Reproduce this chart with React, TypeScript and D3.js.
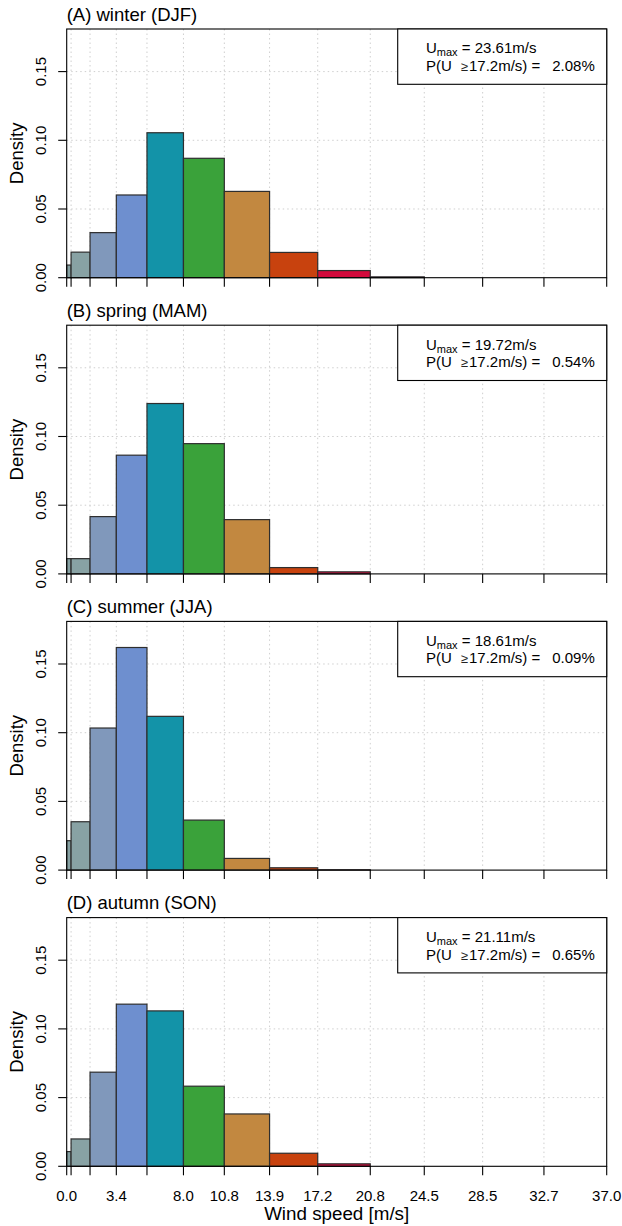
import React from "react";
import * as d3 from "d3";

// Beaufort-scale bin edges (m/s)
const breaks = [0, 0.3, 1.6, 3.4, 5.5, 8.0, 10.8, 13.9, 17.2, 20.8, 24.5, 28.5, 32.7, 37.0];
const labeledBreaks = [0, 3.4, 8.0, 10.8, 13.9, 17.2, 20.8, 24.5, 28.5, 32.7, 37.0];
const yTicks = [0, 0.05, 0.1, 0.15];

// one fill per Beaufort class
const binColors = [
  "#86A1A3", "#88A2A4", "#8098BB", "#6E8FCF", "#1393A8", "#3AA23A",
  "#C28840", "#C8420E", "#D20A3C", "#8E0152", "#6A0D83", "#3F007D", "#2D004B",
];

const panelTitles = ["(A) winter (DJF)", "(B) spring (MAM)", "(C) summer (JJA)", "(D) autumn (SON)"];

// histogram densities per bin
const winterDensity = [0.0092, 0.0186, 0.0328, 0.0602, 0.1055, 0.0869, 0.0628, 0.0184, 0.0052, 0.0006, 0, 0, 0];
const springDensity = [0.0111, 0.0111, 0.0417, 0.0864, 0.124, 0.0948, 0.0395, 0.0046, 0.0015, 0, 0, 0, 0];
const summerDensity = [0.0214, 0.0352, 0.1034, 0.162, 0.1119, 0.0364, 0.0085, 0.0017, 0.00025, 0, 0, 0, 0];
const autumnDensity = [0.0107, 0.0199, 0.0685, 0.118, 0.1131, 0.0583, 0.0381, 0.0095, 0.0018, 0, 0, 0, 0];

const uMax = ["23.61", "19.72", "18.61", "21.11"];
const pGale = ["2.08", "0.54", "0.09", "0.65"];

const seasons = [winterDensity, springDensity, summerDensity, autumnDensity];

const W = 622;
const H = 1226;
const left = 66.7;
const right = 606.7;
const firstTop = 29;
const panelStep = 296.2;
const panelH = 248.7;
const yMax = 0.181;
const font = "'Liberation Sans', Arial, Helvetica, sans-serif";

const x = d3.scaleLinear().domain([0, 37]).range([left, right]);

function Panel({ idx }: { idx: number }) {
  const top = firstTop + idx * panelStep;
  const bottom = top + panelH;
  const y = d3.scaleLinear().domain([0, yMax]).range([bottom, top]);
  const dens = seasons[idx];
  const isLast = idx === seasons.length - 1;
  const legL = 397.7;
  const legH = 55.3;
  const tx = 426;

  return (
    <g>
      <text x={left} y={top - 8.3} fontSize={18.5} fontFamily={font} fill="#000">
        {panelTitles[idx]}
      </text>

      {/* dotted grid */}
      {yTicks.slice(1).map((t) => (
        <line key={"h" + t} x1={left} x2={right} y1={y(t)} y2={y(t)}
          stroke="#cfcfcf" strokeWidth={1} strokeDasharray="1.5,3" />
      ))}
      {breaks.slice(1, -1).map((b) => (
        <line key={"v" + b} x1={x(b)} x2={x(b)} y1={top} y2={bottom}
          stroke="#cfcfcf" strokeWidth={1} strokeDasharray="1.5,3" />
      ))}

      {/* histogram bars */}
      {dens.map((d, i) =>
        d > 0 ? (
          <rect key={"b" + i} x={x(breaks[i])} y={y(d)}
            width={x(breaks[i + 1]) - x(breaks[i])} height={y(0) - y(d)}
            fill={binColors[i]} stroke="#2e2e2e" strokeWidth={1.2} />
        ) : null
      )}

      {/* frame */}
      <rect x={left} y={top} width={right - left} height={panelH} fill="none" stroke="#000" strokeWidth={1.1} />

      {/* x ticks */}
      {breaks.map((b) => (
        <line key={"xt" + b} x1={x(b)} x2={x(b)} y1={bottom} y2={bottom + 9} stroke="#000" strokeWidth={1.1} />
      ))}
      {isLast &&
        labeledBreaks.map((b) => (
          <text key={"xl" + b} x={x(b)} y={bottom + 35} fontSize={15} fontFamily={font} textAnchor="middle">
            {b.toFixed(1)}
          </text>
        ))}
      {isLast && (
        <text x={(left + right) / 2} y={bottom + 53.5} fontSize={18.8} fontFamily={font} textAnchor="middle">
          Wind speed [m/s]
        </text>
      )}

      {/* y axis */}
      {yTicks.map((t) => (
        <g key={"yt" + t}>
          <line x1={left - 8.5} x2={left} y1={y(t)} y2={y(t)} stroke="#000" strokeWidth={1.1} />
          <text transform={`translate(46,${y(t)}) rotate(-90)`} fontSize={15} fontFamily={font} textAnchor="middle">
            {t.toFixed(2)}
          </text>
        </g>
      ))}
      <text transform={`translate(22.7,${(top + bottom) / 2}) rotate(-90)`} fontSize={18.5} fontFamily={font} textAnchor="middle">
        Density
      </text>

      {/* legend */}
      <rect x={legL} y={top} width={right - legL} height={legH} fill="#fff" stroke="#000" strokeWidth={1.1} />
      <text x={tx} y={top + 24.3} fontSize={15} fontFamily={font}>
        <tspan>U</tspan>
        <tspan fontSize={11} dy={3}>max</tspan>
        <tspan dy={-3}>{` = ${uMax[idx]}m/s`}</tspan>
      </text>
      <text x={tx} y={top + 42} fontSize={15} fontFamily={font} style={{ whiteSpace: "pre" }}>
        <tspan>P(U</tspan>
        <tspan dx={9} fontSize={13} fill="#222">≥</tspan>
        <tspan dx={1}>{`17.2m/s) =`}</tspan>
        <tspan dx={12}>{`${pGale[idx]}%`}</tspan>
      </text>
    </g>
  );
}

export default function App() {
  return (
    <svg width={W} height={H} style={{ position: "absolute", left: 0, top: 0, background: "#fff" }}>
      <rect width={W} height={H} fill="#fff" />
      {seasons.map((_, i) => (
        <Panel key={i} idx={i} />
      ))}
    </svg>
  );
}
